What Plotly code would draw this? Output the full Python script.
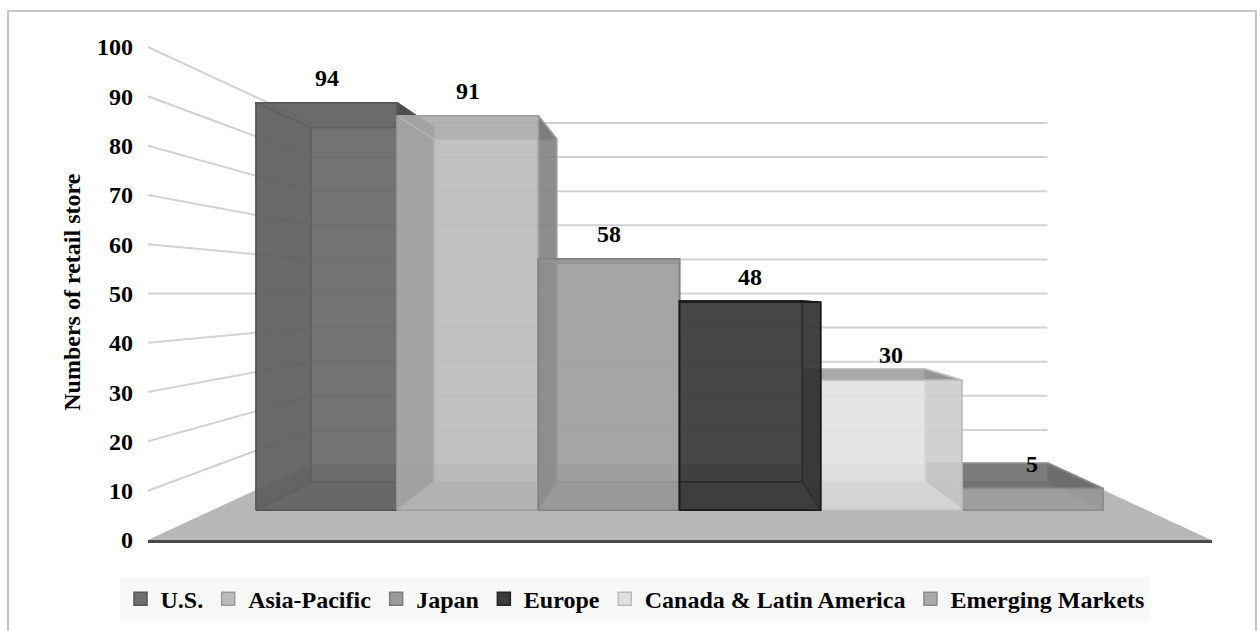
import plotly.graph_objects as go

# ---------------- data ----------------
categories = ["U.S.", "Asia-Pacific", "Japan", "Europe",
              "Canada & Latin America", "Emerging Markets"]
stores = [94, 91, 58, 48, 30, 5]
y_tick_values = [0, 10, 20, 30, 40, 50, 60, 70, 80, 90, 100]
y_tick_labels = [str(v) for v in y_tick_values]
axis_title = "Numbers of retail store"

# ---------------- styles ----------------
face_rgb = [(101, 101, 101), (186, 186, 186), (157, 157, 157),
            (53, 53, 53), (225, 225, 225), (164, 164, 164)]
edge_colors = ["#555555", "#a0a0a0", "#808080", "#1a1a1a", "#bdbdbd", "#8a8a8a"]
legend_fill = ["#6e6e6e", "#bcbcbc", "#9a9a9a", "#3c3c3c", "#e0e0e0", "#ababab"]
legend_line = ["#555555", "#999999", "#7c7c7c", "#222222", "#bbbbbb", "#8a8a8a"]

FONT = "Liberation Serif, Times New Roman, serif"
FS = 24

# 3-D view geometry (front-plane units: 1 per category, y in data units)
VX, VY = 3.0, 50.0                      # vanishing point
F_FRONT, F_BACK, F_WALL = 0.879, 0.765, 0.692
FLOOR_X = (-0.31, 6.31)
ALPHA = 0.7
SHADE = dict(front=1.0, back=1.0, left=0.6, right=0.6, top=0.62, bottom=0.8)


def proj(x, y, f):
    return VX + (x - VX) * f, VY + (y - VY) * f


def poly(points):
    pts = [proj(*p) for p in points]
    xs = [p[0] for p in pts] + [pts[0][0]]
    ys = [p[1] for p in pts] + [pts[0][1]]
    return xs, ys


fig = go.Figure()

# perspective gridlines (side wall + back wall)
for v in y_tick_values[1:]:
    pts = [proj(FLOOR_X[0], v, 1.0), proj(FLOOR_X[0], v, F_WALL), proj(FLOOR_X[1], v, F_WALL)]
    fig.add_trace(go.Scatter(x=[p[0] for p in pts], y=[p[1] for p in pts], mode="lines",
                             line=dict(color="#d3d3d3", width=2),
                             hoverinfo="skip", showlegend=False))

# floor
fx, fy = poly([(FLOOR_X[0], 0, 1.0), (FLOOR_X[1], 0, 1.0),
               (FLOOR_X[1], 0, F_WALL), (FLOOR_X[0], 0, F_WALL)])
fig.add_trace(go.Scatter(x=fx, y=fy, mode="lines", fill="toself", fillcolor="#b7b7b7",
                         line=dict(color="rgba(0,0,0,0)", width=0),
                         hoverinfo="skip", showlegend=False))

# 3-D bars (painter's order: outer bars first)
order = [0, 5, 1, 4, 2, 3]
for i in order:
    v = stores[i]
    x0, x1 = i, i + 1
    F, B = F_FRONT, F_BACK
    faces = [
        ("back", [(x0, 0, B), (x1, 0, B), (x1, v, B), (x0, v, B)], False),
        ("bottom", [(x0, 0, F), (x1, 0, F), (x1, 0, B), (x0, 0, B)], False),
        ("left", [(x0, 0, F), (x0, v, F), (x0, v, B), (x0, 0, B)], x0 > VX),
        ("right", [(x1, 0, F), (x1, v, F), (x1, v, B), (x1, 0, B)], x1 < VX),
        ("top", [(x0, v, F), (x1, v, F), (x1, v, B), (x0, v, B)], v < VY),
        ("front", [(x0, 0, F), (x1, 0, F), (x1, v, F), (x0, v, F)], True),
    ]
    for front_pass in (False, True):
        for name, pts, facing in faces:
            if facing != front_pass:
                continue
            s = SHADE[name]
            r, g, b = (int(round(c * s)) for c in face_rgb[i])
            xs, ys = poly(pts)
            fig.add_trace(go.Scatter(x=xs, y=ys, mode="lines", fill="toself",
                                     fillcolor=f"rgba({r},{g},{b},{ALPHA})",
                                     line=dict(color=edge_colors[i], width=1.5),
                                     hoverinfo="skip", showlegend=False))

# data labels
for i, v in enumerate(stores):
    lx, ly = proj(i + 0.5, v, F_FRONT)
    fig.add_annotation(x=lx, y=ly, text=str(v), showarrow=False, yshift=25,
                       font=dict(family=FONT, size=FS, color="black", weight="bold"))

# legend entries
for i, name in enumerate(categories):
    fig.add_trace(go.Scatter(x=[None], y=[None], mode="markers", name=name,
                             marker=dict(symbol="square", size=13, color=legend_fill[i],
                                         line=dict(color=legend_line[i], width=1.5)),
                             hoverinfo="skip", showlegend=True))

# axis title
fig.add_annotation(xref="paper", yref="paper", x=-0.0714, y=0.458, text=axis_title,
                   textangle=-90, showarrow=False, xanchor="center", yanchor="middle",
                   font=dict(family=FONT, size=FS, color="black", weight="bold"))

# chart frame
fig.add_shape(type="rect", xref="paper", yref="paper",
              x0=(8 - 148) / 1064, x1=(1256 - 148) / 1064,
              y0=(540 - 650) / 540, y1=(540 - 11) / 540,
              line=dict(color="#c8c8c8", width=2), fillcolor="rgba(0,0,0,0)", layer="below")

fig.update_layout(
    width=1260, height=631,
    margin=dict(l=148, r=48, t=0, b=91, pad=0),
    paper_bgcolor="white", plot_bgcolor="rgba(0,0,0,0)",
    xaxis=dict(range=[-0.3095, 6.3157], showgrid=False, zeroline=False,
               showticklabels=False, ticks="", showline=True,
               linecolor="#4a4a4a", linewidth=3, fixedrange=True),
    yaxis=dict(range=[0, 540 / 4.93], tickmode="array", tickvals=y_tick_values,
               ticktext=y_tick_labels, showgrid=False, zeroline=False, showline=False,
               ticks="", ticklabelstandoff=14, fixedrange=True,
               tickfont=dict(family=FONT, size=FS, color="black", weight="bold")),
    showlegend=True,
    legend=dict(orientation="h", x=0.4577, xanchor="center", y=-0.068, yanchor="top",
                bgcolor="#f8f8f8", traceorder="normal",
                font=dict(family=FONT, size=FS, color="black", weight="bold")),
)

fig.write_html("out.html", config={"displayModeBar": False})
